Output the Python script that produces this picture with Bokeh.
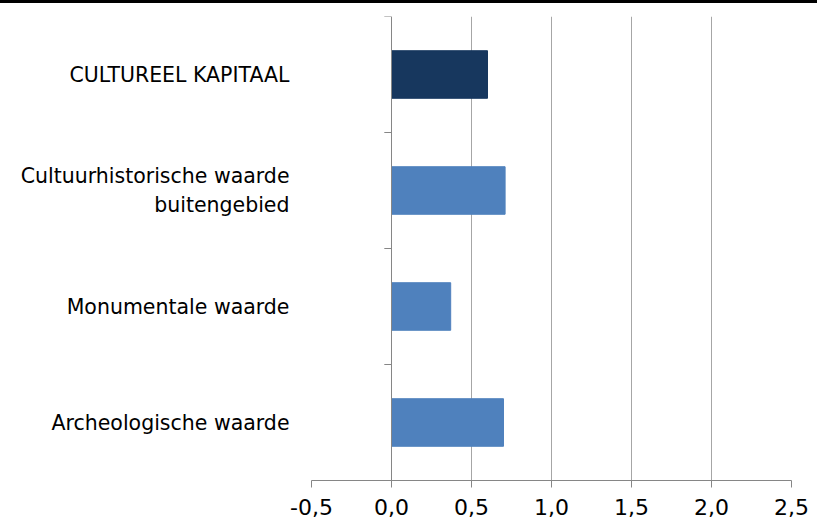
from bokeh.plotting import figure
from bokeh.models import Range1d, FixedTicker, Span, ColumnDataSource, Div
from bokeh.layouts import column
from bokeh.embed import file_html
from bokeh.resources import INLINE

# data (top to bottom in the chart)
categories = ["CULTUREEL KAPITAAL",
              "Cultuurhistorische waarde\nbuitengebied",
              "Monumentale waarde",
              "Archeologische waarde"]
values = [0.60, 0.71, 0.37, 0.70]
colors = ["#17375E", "#4F81BD", "#4F81BD", "#4F81BD"]
x_ticks = [-0.5, 0.0, 0.5, 1.0, 1.5, 2.0, 2.5]
x_tick_labels = ["-0,5", "0,0", "0,5", "1,0", "1,5", "2,0", "2,5"]

n = len(categories)
ypos = [n - i - 0.5 for i in range(n)]
boundaries = [float(i) for i in range(n + 1)]

FONT = "DejaVu Sans"

p = figure(width=817, height=524, output_backend="svg", toolbar_location=None,
           x_range=Range1d(-0.5, 2.5), y_range=Range1d(0, n),
           min_border_left=311, min_border_right=26, min_border_top=13,
           min_border_bottom=47)
p.outline_line_color = None
p.background_fill_color = "white"
p.border_fill_color = "white"

src = ColumnDataSource(dict(y=ypos, right=values, color=colors))
p.hbar(y="y", left=0, right="right", height=0.41, fill_color="color",
       line_color="color", source=src)

# x axis
xa = p.xaxis[0]
xa.ticker = FixedTicker(ticks=x_ticks, minor_ticks=[])
xa.major_label_overrides = {t: l for t, l in zip(x_ticks, x_tick_labels)}
xa.axis_line_color = "#868686"
xa.major_tick_line_color = "#868686"
xa.major_tick_in = 0
xa.major_tick_out = 7
xa.major_label_text_font = FONT
xa.major_label_text_font_size = "22px"
xa.major_label_text_color = "black"
xa.major_label_standoff = 11

# y axis: labels only
ya = p.yaxis[0]
ya.ticker = FixedTicker(ticks=ypos, minor_ticks=[])
ya.major_label_overrides = {y: c for y, c in zip(ypos, categories)}
ya.axis_line_color = None
ya.major_tick_line_color = None
ya.minor_tick_line_color = None
ya.major_label_text_font = FONT
ya.major_label_text_font_size = "20.5px"
ya.major_label_text_color = "black"
ya.major_label_standoff = 16

# grids
p.xgrid.ticker = FixedTicker(ticks=[t for t in x_ticks if t != 0.0])
p.xgrid.grid_line_color = "#A6A6A6"
p.ygrid.grid_line_color = None

# vertical category axis at x = 0 with boundary ticks
p.add_layout(Span(location=0, dimension="height", line_color="#868686", line_width=1))
p.segment(x0=[-0.045] * len(boundaries), x1=[0] * len(boundaries),
          y0=boundaries, y1=boundaries, line_color="#868686", line_width=1)

# top black rule
rule = Div(text="", width=817, height=3, margin=0,
           styles={"background-color": "black"})

layout = column(rule, p, spacing=0)
open("out.html", "w").write(file_html(layout, INLINE))
